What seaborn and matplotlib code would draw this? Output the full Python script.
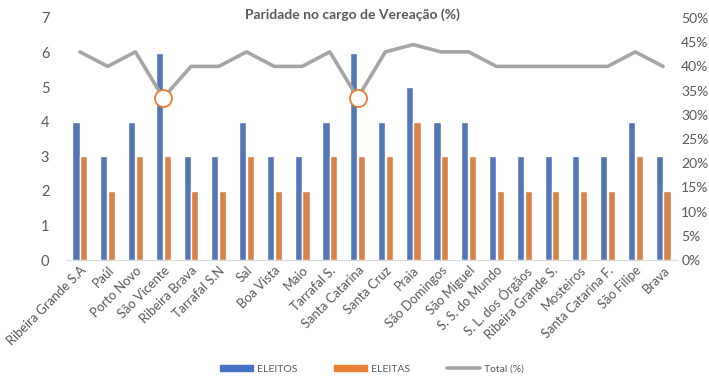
import matplotlib
matplotlib.use("Agg")
import matplotlib.pyplot as plt
import matplotlib.ticker as mticker
from matplotlib.lines import Line2D
from matplotlib.patches import Patch
import numpy as np
import pandas as pd
import seaborn as sns

# data
municipios = ["Ribeira Grande S.A", "Paúl", "Porto Novo", "São Vicente", "Ribeira Brava",
              "Tarrafal S.N", "Sal", "Boa Vista", "Maio", "Tarrafal S.", "Santa Catarina",
              "Santa Cruz", "Praia", "São Domingos", "São Miguel", "S. S. do Mundo",
              "S. L. dos Órgãos", "Ribeira Grande S.", "Mosteiros", "Santa Catarina F.",
              "São Filipe", "Brava"]
eleitos = [4, 3, 4, 6, 3, 3, 4, 3, 3, 4, 6, 4, 5, 4, 4, 3, 3, 3, 3, 3, 4, 3]
eleitas = [3, 2, 3, 3, 2, 2, 3, 2, 2, 3, 3, 3, 4, 3, 3, 2, 2, 2, 2, 2, 3, 2]
total_pct = [43, 40, 43, 33.5, 40, 40, 43, 40, 40, 43, 33.5, 43, 44.5, 43, 43,
             40, 40, 40, 40, 40, 43, 40]

azul = "#4472C4"
laranja = "#ED7D31"
cinza = "#A5A5A5"
texto = "#595959"

sns.set_style("white")
plt.rcParams["font.family"] = ["Lato", "DejaVu Sans"]

df = pd.DataFrame({"Município": municipios, "ELEITOS": eleitos, "ELEITAS": eleitas})
longo = df.melt(id_vars="Município", var_name="Grupo", value_name="Valor")

fig = plt.figure(figsize=(7.09, 3.83), dpi=100)
ax = fig.add_axes([66 / 709, 1 - 260 / 383, (677 - 66) / 709, (260 - 18) / 383])

sns.barplot(data=longo, x="Município", y="Valor", hue="Grupo",
            palette=[azul, laranja], width=0.56, gap=0.08, ax=ax, legend=False)
ax.set_ylim(0, 7)
ax.set_yticks(range(0, 8))
ax.set_xlabel("")
ax.set_ylabel("")
ax.tick_params(axis="y", length=0, pad=12, labelsize=10.5, labelcolor=texto)
ax.tick_params(axis="x", length=0, pad=3, labelsize=9.3, labelcolor=texto)
ax.set_xticks(range(len(municipios)))
ax.set_xticklabels(municipios, rotation=45, ha="right", rotation_mode="anchor")
for s in ["top", "right", "left"]:
    ax.spines[s].set_visible(False)
ax.spines["bottom"].set_color("#D9D9D9")

ax2 = ax.twinx()
pos = np.arange(len(municipios))
sns.lineplot(x=pos, y=total_pct, color=cinza, linewidth=2.6, ax=ax2, legend=False)
minimo = min(total_pct)
idx = [i for i, v in enumerate(total_pct) if v == minimo]
sns.scatterplot(x=pos[idx], y=[total_pct[i] for i in idx], s=150, color="white",
                edgecolor=laranja, linewidth=1.3, ax=ax2, zorder=5, legend=False)
ax2.set_ylim(0, 50)
ax2.set_yticks(range(0, 51, 5))
ax2.yaxis.set_major_formatter(mticker.PercentFormatter(xmax=100, decimals=0))
ax2.tick_params(axis="y", length=0, pad=3, labelsize=10, labelcolor=texto)
ax2.set_xlim(-0.5, len(municipios) - 0.5)
for s in ["top", "right", "left", "bottom"]:
    ax2.spines[s].set_visible(False)

fig.text(352 / 709, 1 - 15 / 383, "Paridade no cargo de Vereação (%)", ha="center",
         va="center", fontsize=10, fontweight="bold", color=texto)

handles = [Patch(color=azul), Patch(color=laranja), Line2D([0], [0], color=cinza, lw=2.6)]
fig.legend(handles, ["ELEITOS", "ELEITAS", "Total (%)"], loc="center",
           bbox_to_anchor=(372 / 709, 1 - 369 / 383), ncol=3, frameon=False,
           fontsize=7.5, handlelength=3.2, handleheight=0.45, columnspacing=3.5,
           handletextpad=0.4, labelcolor=texto)

fig.savefig("out.png", dpi=100)
